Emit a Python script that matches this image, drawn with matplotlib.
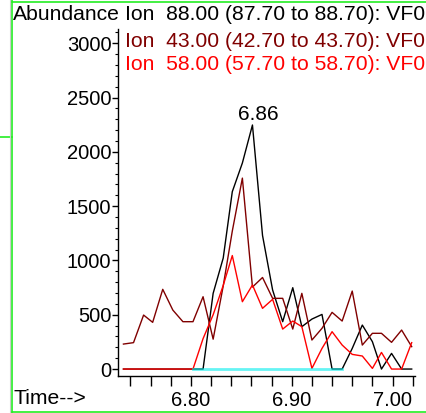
import numpy as np
import matplotlib
matplotlib.use("Agg")
import matplotlib.pyplot as plt
from matplotlib.lines import Line2D
from matplotlib.ticker import MultipleLocator, FixedLocator, FuncFormatter

plt.rcParams['font.family'] = ['Liberation Sans', 'DejaVu Sans']

# retention time (min)
times = [6.733, 6.743, 6.753, 6.762, 6.772, 6.782, 6.792, 6.802, 6.812, 6.822,
         6.832, 6.841, 6.851, 6.861, 6.871, 6.881, 6.891, 6.901, 6.910, 6.920,
         6.930, 6.940, 6.950, 6.960, 6.970, 6.980, 6.989, 6.999, 7.009, 7.019]

# ion 88
ion88 = [0, 0, 0, 0, 0, 0, 0, 0, 0, 697,
         1022, 1633, 1897, 2247, 1230, 728, 436, 749, 390, 460,
         503, 0, 0, 190, 405, 252, 0, 144, 0, 0]
# ion 43
ion43 = [230, 243, 497, 430, 734, 543, 436, 436, 666, 275,
         765, 1270, 1758, 755, 843, 651, 651, 368, 697, 267,
         375, 522, 442, 718, 221, 329, 329, 246, 359, 206]
# ion 58
ion58 = [0, 0, 0, 0, 0, 0, 0, 0, 280, 500,
         770, 1045, 620, 774, 559, 642, 368, 442, 390, 6,
         190, 344, 221, 135, 120, 6, 153, 0, 0, 243]

legend_lines = ["Ion  88.00 (87.70 to 88.70): VF0",
                "Ion  43.00 (42.70 to 43.70): VF0",
                "Ion  58.00 (57.70 to 58.70): VF0"]
colors = ['black', '#800000', '#ff0000']
baseline = [6.802, 6.950]
peak_label = "6.86"

fig = plt.figure(figsize=(4.26, 4.13), dpi=100)
ax = fig.add_axes([0.2777, 0.0896, 0.6963, 0.8402])

ax.plot(times, ion88, color=colors[0], lw=1.0)
ax.plot(times, ion43, color=colors[1], lw=1.0)
ax.plot(times, ion58, color=colors[2], lw=1.0)
ax.plot(baseline, [0, 0], color='#00eeee', lw=2.0, alpha=0.6)

ipk = int(np.argmax(ion88))
ax.annotate(peak_label, (times[ipk], ion88[ipk]), xytext=(4, 1),
            textcoords='offset points', ha='center', va='bottom', fontsize=15)

ax.set_xlim(6.7279, 7.0222)
ax.set_ylim(-64, 3131)
for s in ['top', 'right']:
    ax.spines[s].set_visible(False)
ax.spines['left'].set_linewidth(1.0)
ax.spines['bottom'].set_linewidth(1.0)

xt = [6.74, 6.76, 6.78, 6.80, 6.82, 6.84, 6.86, 6.88, 6.90, 6.92, 6.94, 6.96, 6.98, 7.00, 7.02]
ax.xaxis.set_major_locator(FixedLocator(xt))
ax.xaxis.set_major_formatter(FuncFormatter(
    lambda v, p: "%.2f" % v if abs(v * 10 - round(v * 10)) < 1e-6 else ""))
ax.yaxis.set_major_locator(MultipleLocator(500))
ax.yaxis.set_minor_locator(MultipleLocator(100))
ax.tick_params(axis='x', length=7, width=1, labelsize=14.5, pad=4)
ax.tick_params(axis='y', which='major', length=4, width=1, labelsize=14.5, pad=1)
ax.tick_params(axis='y', which='minor', length=2, width=0.8)

fig.text(13 / 426, 1 - 15 / 413, "Abundance", fontsize=15.2, va='center', ha='left')
for i, (t, c) in enumerate(zip(legend_lines, colors)):
    fig.text(125 / 426, 1 - [15, 41.5, 64.5][i] / 413, t, color=c,
             fontsize=15.2, va='center', ha='left')
fig.text(13 / 426, 1 - 398 / 413, "Time-->", fontsize=15.2, va='center', ha='left')

# window frame
g = '#22ee22'
fig.add_artist(Line2D([12 / 426, 12 / 426], [0, 1], color=g, lw=1.2))
fig.add_artist(Line2D([12 / 426, 1], [1 - 1.5 / 413, 1 - 1.5 / 413], color=g, lw=1.2))
fig.add_artist(Line2D([12 / 426, 1], [1.5 / 413, 1.5 / 413], color=g, lw=1.2))
fig.add_artist(Line2D([0, 12 / 426], [1 - 137 / 413, 1 - 137 / 413], color=g, lw=1.2))
fig.add_artist(Line2D([10 / 426, 10 / 426], [0, 1], color='#cccccc', lw=0.8))

fig.savefig("out.png", dpi=100)
